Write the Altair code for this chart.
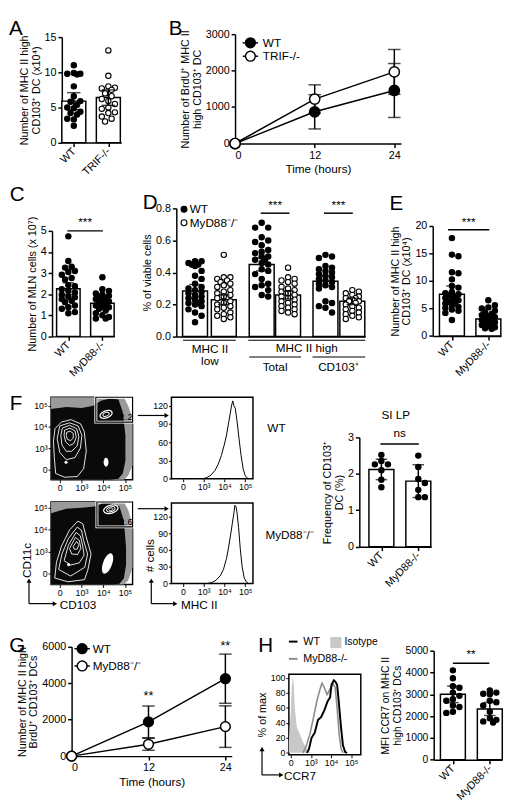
import altair as alt
import pandas as pd

FONT = "Liberation Sans"
S = 0.98
ONE = pd.DataFrame({"k": [0]})


def L(d):
    return S * d


# ===================== DATA =====================
# Panel A
A_groups = ["WT", "TRIF-/-"]
A_wt = [11.0, 9.9, 9.8, 9.8, 9.7, 8.0, 6.6, 5.9, 5.8, 5.4, 5.0, 4.9, 4.4, 4.2, 4.0, 3.4, 3.3, 2.4]
A_trif = [13.1, 9.5, 8.0, 7.8, 7.7, 7.5, 7.0, 6.6, 6.2, 5.9, 5.5, 5.0, 4.8, 4.3, 4.2, 3.7, 3.4, 3.0]
A_mean = [5.9, 6.4]
A_err = [1.2, 1.1]

# Panel B
B_series = ["WT", "TRIF-/-"]
B_time = [0, 12, 24]
B_wt = [0, 870, 1455]
B_wt_err = [0, 470, 740]
B_trif = [0, 1220, 1965]
B_trif_err = [0, 390, 615]

# Panel C
C_groups = ["WT", "MyD88-/-"]
C_wt = [4.74, 3.57, 3.3, 3.26, 3.1, 3.05, 2.92, 2.77, 2.7, 2.43, 2.38, 2.23, 2.15, 2.08, 1.97,
        1.88, 1.85, 1.77, 1.69, 1.62, 1.46, 1.38, 1.31, 1.15, 1.1]
C_myd = [2.8, 2.23, 2.15, 2.03, 1.97, 1.92, 1.88, 1.82, 1.77, 1.69, 1.66, 1.62, 1.54, 1.46, 1.42,
         1.38, 1.31, 1.23, 1.1, 1.0, 0.92, 0.85, 0.85]
C_mean = [2.26, 1.57]
C_err = [0.28, 0.12]

# Panel D
D_series = ["WT", "MyD88⁻/⁻"]
D_low_wt = [0.47, 0.47, 0.46, 0.45, 0.45, 0.44, 0.41, 0.38, 0.36, 0.33, 0.31, 0.30, 0.29, 0.28, 0.27,
            0.26, 0.25, 0.24, 0.23, 0.22, 0.21, 0.21, 0.20, 0.19, 0.17, 0.15, 0.13, 0.09]
D_low_myd = [0.51, 0.37, 0.37, 0.36, 0.35, 0.34, 0.33, 0.32, 0.31, 0.29, 0.28, 0.27, 0.26, 0.25,
             0.24, 0.22, 0.21, 0.20, 0.19, 0.18, 0.17, 0.15, 0.14, 0.13, 0.12, 0.11]
D_tot_wt = [0.71, 0.68, 0.68, 0.62, 0.60, 0.59, 0.57, 0.54, 0.53, 0.52, 0.50, 0.50, 0.48, 0.48,
            0.46, 0.45, 0.42, 0.41, 0.39, 0.36, 0.33, 0.32, 0.31, 0.29, 0.26, 0.25]
D_tot_myd = [0.43, 0.37, 0.36, 0.35, 0.34, 0.33, 0.31, 0.30, 0.29, 0.28, 0.27, 0.26, 0.25, 0.24,
             0.23, 0.22, 0.21, 0.20, 0.19, 0.18, 0.17, 0.16, 0.15, 0.14]
D_cd_wt = [0.51, 0.50, 0.49, 0.44, 0.43, 0.42, 0.41, 0.40, 0.39, 0.38, 0.37, 0.36, 0.35, 0.34,
           0.33, 0.32, 0.31, 0.30, 0.22, 0.21, 0.19, 0.18, 0.15]
D_cd_myd = [0.29, 0.28, 0.27, 0.26, 0.25, 0.24, 0.24, 0.23, 0.22, 0.22, 0.21, 0.20, 0.19, 0.18,
            0.17, 0.16, 0.15, 0.14, 0.13, 0.12, 0.11]
D_mean = [0.285, 0.23, 0.45, 0.26, 0.345, 0.22]
D_err = [0.04, 0.03, 0.04, 0.025, 0.03, 0.02]

# Panel E
E_groups = ["WT", "MyD88-/-"]
E_wt = [17.8, 14.8, 14.5, 11.6, 11.4, 10.3, 9.1, 8.8, 8.0, 7.8, 7.6, 7.4, 7.1, 6.9, 6.8, 6.5, 6.2,
        6.0, 5.9, 5.6, 5.3, 5.1, 4.8, 4.6, 4.2, 2.9]
E_myd = [6.5, 5.6, 5.2, 5.0, 4.6, 4.3, 4.0, 3.8, 3.6, 3.4, 3.2, 3.0, 2.9, 2.7, 2.5, 2.3, 2.1, 2.0,
         1.8, 1.6, 1.4, 1.3]
E_mean = [7.6, 3.1]
E_err = [1.5, 0.5]

# Panel F - flow plots
DEC_LABELS = ["0", "10³", "10⁴", "10⁵"]
F_top_halo = ([-0.4, 2.95, 3.15, 3.35], [3.41, 3.41, 3.0, 2.4], [-0.5, -0.5, -0.3, 0.2])
F_top_core = ([-0.4, 0.3, 1.0, 1.5, 1.9, 2.3, 2.7, 2.9, 3.02],
              [2.85, 2.95, 2.9, 3.0, 3.25, 3.35, 3.3, 2.7, 1.6],
              [-0.5, -0.5, -0.5, -0.5, -0.5, -0.5, -0.45, -0.2, 0.4])
F_top_contours = [
    [(-0.22, 1.92), (-0.29, 1.32), (-0.25, 0.56), (-0.19, -0.2), (0.22, -0.38), (0.81, -0.35),
     (1.10, 0.03), (1.22, 0.86), (1.13, 1.77), (0.96, 2.15), (0.51, 2.35), (0.07, 2.23)],
    [(0.0, 2.05), (0.45, 2.2), (0.85, 2.05), (1.02, 1.6), (0.95, 1.0), (0.7, 0.55), (0.3, 0.45),
     (0.0, 0.8), (-0.12, 1.45)],
    [(0.12, 1.95), (0.45, 2.08), (0.78, 1.92), (0.88, 1.55), (0.8, 1.1), (0.55, 0.85), (0.3, 0.85),
     (0.1, 1.15), (0.05, 1.6)],
    [(0.22, 1.85), (0.46, 1.95), (0.7, 1.82), (0.76, 1.52), (0.65, 1.22), (0.45, 1.12), (0.27, 1.3),
     (0.2, 1.6)],
    [(0.32, 1.75), (0.48, 1.8), (0.62, 1.7), (0.62, 1.48), (0.5, 1.35), (0.35, 1.42), (0.3, 1.6)],
]
F_top_gate = (1.66, 3.35, 2.23, 3.41)
F_top_freq = "2.2"
F_bot_halo = ([-0.4, 2.95, 3.15, 3.35], [3.26, 3.26, 2.9, 2.2], [-0.48, -0.48, -0.3, 0.3])
F_bot_core = ([-0.4, 0.3, 1.0, 1.6, 2.0, 2.4, 2.75, 2.95, 3.05],
              [2.75, 2.95, 3.0, 3.05, 3.2, 3.2, 3.05, 2.4, 1.2],
              [-0.48, -0.48, -0.48, -0.48, -0.48, -0.48, -0.45, -0.2, 0.4])
F_bot_contours = [
    [(-0.23, -0.19), (-0.15, 0.53), (0.08, 1.26), (0.45, 1.99), (0.83, 2.39), (1.06, 2.27),
     (1.21, 1.70), (1.44, 0.90), (1.29, 0.17), (1.14, -0.26), (0.38, -0.36)],
    [(-0.05, 0.2), (0.1, 0.9), (0.4, 1.6), (0.8, 2.12), (1.0, 1.98), (1.1, 1.5), (1.28, 0.9),
     (1.15, 0.3), (0.5, -0.1)],
    [(0.2, 0.6), (0.4, 1.3), (0.75, 1.88), (0.95, 1.72), (1.05, 1.3), (1.12, 0.85), (0.9, 0.5),
     (0.5, 0.4)],
    [(0.45, 1.15), (0.72, 1.65), (0.9, 1.52), (0.97, 1.15), (0.82, 0.88), (0.55, 0.9)],
    [(0.62, 1.25), (0.78, 1.47), (0.88, 1.32), (0.8, 1.12), (0.66, 1.12)],
]
F_bot_gate = (1.71, 3.35, 2.13, 3.26)
F_bot_freq = "2.6"
F_hist_wt_u = [0.95, 1.15, 1.35, 1.55, 1.7, 1.85, 2.0, 2.1, 2.2, 2.28, 2.35, 2.4, 2.45, 2.52, 2.6,
               2.7, 2.8, 2.9, 3.0, 3.1, 3.15]
F_hist_wt_c = [0, 2, 6, 14, 24, 38, 57, 72, 92, 108, 122, 128, 120, 116, 96, 66, 38, 16, 5, 1, 0]
F_hist_myd_u = [1.2, 1.4, 1.6, 1.8, 1.95, 2.1, 2.2, 2.3, 2.38, 2.45, 2.5, 2.55, 2.6, 2.68, 2.76,
                2.85, 2.95, 3.05, 3.15]
F_hist_myd_c = [0, 2, 6, 14, 25, 45, 65, 88, 108, 125, 140, 138, 128, 100, 62, 30, 10, 3, 0]

# SI LP
SI_groups = ["WT", "MyD88-/-"]
SI_wt = [2.52, 2.35, 2.26, 2.26, 2.1, 1.84, 1.63]
SI_myd = [2.5, 2.19, 1.86, 1.75, 1.56, 1.36, 1.36]
SI_mean = [2.12, 1.8]
SI_err = [0.28, 0.45]

# Panel G
G_series = ["WT", "MyD88⁻/⁻"]
G_time = [0, 12, 24]
G_wt = [0, 1880, 4250]
G_wt_err = [0, 870, 1350]
G_myd = [0, 650, 1620]
G_myd_err = [0, 330, 1140]

# Panel H
H_iso_u = [-0.1, 0.0, 0.05, 0.1, 0.15, 0.2, 0.3, 0.45, 0.6, 0.75, 0.9, 1.0]
H_iso_c = [15, 55, 90, 100, 90, 60, 35, 25, 15, 7, 2, 0]
H_myd_u = [0.6, 0.75, 0.95, 1.15, 1.3, 1.45, 1.55, 1.65, 1.8, 1.95, 2.1, 2.2, 2.3, 2.4, 2.5, 2.6]
H_myd_c = [0, 8, 25, 50, 70, 85, 93, 88, 78, 85, 92, 88, 60, 25, 5, 0]
H_wt_u = [0.8, 0.9, 1.03, 1.19, 1.35, 1.51, 1.67, 1.83, 1.95, 2.02, 2.14, 2.22, 2.30, 2.38, 2.49,
          2.59, 2.7, 2.8]
H_wt_c = [0, 5, 20, 27, 44, 48, 57, 69, 74, 91, 97, 95, 91, 69, 35, 10, 1, 0]
H_groups = ["WT", "MyD88-/-"]
H_wt = [4100, 3740, 3370, 3300, 3080, 2930, 2780, 2710, 2490, 2420, 2200, 2150]
H_myd = [3180, 3080, 3030, 3000, 2710, 2640, 2490, 2200, 1900, 1830, 1760, 1710]
H_mean = [3000, 2330]
H_err = [380, 300]

# ===================== HELPERS =====================
DEC_EXPR = ("datum.value == 0 ? '%s' : (datum.value == 1 ? '%s' : (datum.value == 2 ? '%s' : '%s'))"
            % tuple(DEC_LABELS))
ELL = "M-1,0A1,0.55,0,1,0,1,0A1,0.55,0,1,0,-1,0Z"
ELL_THIN = "M-1,0A1,0.42,0,1,0,1,0A1,0.42,0,1,0,-1,0Z"


def txt(s, x, y, size=11, align="center", baseline="middle", angle=0, color="black"):
    kw = dict(text=s, fontSize=size, align=align, baseline=baseline, color=color, font=FONT)
    if angle:
        kw["angle"] = angle
    return alt.Chart(ONE).mark_text(**kw).encode(x=alt.value(x), y=alt.value(y))


def seg(x1, y1, x2, y2, color="black", w=1.2):
    return alt.Chart(ONE).mark_rule(color=color, strokeWidth=w).encode(
        x=alt.value(x1), y=alt.value(y1), x2=alt.value(x2), y2=alt.value(y2))


def head(x, y, shape, size=26, color="black"):
    return alt.Chart(ONE).mark_point(shape=shape, filled=True, color=color, size=size,
                                     opacity=1).encode(x=alt.value(x), y=alt.value(y))


def key_rows(ox, oy, entries, sx, tx, size, stub, sw):
    # legend drawn as marks: a symbol (optionally with line stubs) and a label per series
    out = []
    for (yref, fill, label) in entries:
        if stub:
            out.append(seg(L(sx - stub - ox), L(yref - oy), L(sx + stub - ox), L(yref - oy), w=1.5))
        out.append(alt.Chart(ONE).mark_point(shape="circle", filled=True, fill=fill, stroke="black",
                                             strokeWidth=sw, size=size, opacity=1).encode(
            x=alt.value(L(sx - ox)), y=alt.value(L(yref - oy))))
        out.append(txt(label, L(tx - ox), L(yref - oy), size=12, align="left"))
    return out


def frame(rect, tile):
    # invisible box that fixes the panel's layout bounds to its tile of the figure
    x0, y0 = rect[0], rect[1]
    tx0, ty0, tx1, ty1 = tile
    return alt.Chart(ONE).mark_rect(opacity=0).encode(
        x=alt.value(L(tx0 - x0)), x2=alt.value(L(tx1 - x0)),
        y=alt.value(L(ty0 - y0)), y2=alt.value(L(ty1 - y0)))


def letter(ch, lx, ly, ox, oy):
    return txt(ch, L(lx - ox), L(ly - oy), size=21, align="left", baseline="top")


def swarm(vals, pxu, d=6.2, maxoff=10.0):
    step = d * 0.55
    cands = [0.0]
    k = 1
    while k * step <= maxoff:
        cands += [k * step, -k * step]
        k += 1
    placed = []
    offs = [0.0] * len(vals)
    for i in sorted(range(len(vals)), key=lambda j: -vals[j]):
        y = vals[i] * pxu
        best, bestd = 0.0, -1.0
        for c in cands:
            md = min([((c - px) ** 2 + (y - py) ** 2) ** 0.5 for px, py in placed] or [1e9])
            if md >= d:
                best = c
                break
            if md > bestd:
                bestd, best = md, c
        offs[i] = best
        placed.append((best, y))
    return offs


def bar_dot(rect, tile, centers, bw, pt_lists, names, palette, means, errs, ydom, yticks, ytitle,
            pxu, xlabels=None, yfmt=None, cap=12, sig=(), extra=(), tfs=11, lfs=11):
    x0, y0, x1, y1 = rect
    W, H = x1 - x0, y1 - y0
    cs = [c - x0 for c in centers]
    xs = alt.Scale(domain=[0, W], nice=False, zero=False)
    ys = alt.Scale(domain=ydom, nice=False, zero=False)
    if xlabels:
        mid = (cs[0] + cs[1]) / 2
        expr = "datum.value < %.2f ? '%s' : '%s'" % (mid, xlabels[0], xlabels[1])
        xaxis = alt.Axis(values=cs, labelExpr=expr, labelAngle=315, labelAlign="right",
                         labelBaseline="middle", labelPadding=3, title=None, labelFontSize=11)
    else:
        xaxis = alt.Axis(values=cs, labels=False, ticks=False, title=None)
    ykw = dict(values=yticks, title=ytitle, titlePadding=3, titleFontSize=tfs, labelFontSize=lfs,
               titleLineHeight=tfs + 1)
    if yfmt:
        ykw["format"] = yfmt
    yaxis = alt.Axis(**ykw)

    def X(f):
        return alt.X(f, scale=xs, axis=xaxis)

    def Y(f):
        return alt.Y(f, scale=ys, axis=yaxis)

    bdf = pd.DataFrame({"l": [c - bw / 2 for c in cs], "r": [c + bw / 2 for c in cs], "c": cs,
                        "m": means, "lo": [m - e for m, e in zip(means, errs)],
                        "hi": [m + e for m, e in zip(means, errs)]})
    rows = []
    for c, vals, nm in zip(cs, pt_lists, names):
        for v, o in zip(vals, swarm(vals, pxu, maxoff=bw / 2 - 2.8)):
            rows.append({"x": c + o, "v": v, "g": nm})
    pdf = pd.DataFrame(rows)
    dom = list(palette.keys())
    rng = [palette[k] for k in dom]
    layers = [
        frame(rect, tile),
        alt.Chart(bdf).mark_bar(fill="white", stroke="black", strokeWidth=1.5).encode(
            x=X("l:Q"), x2="r:Q", y=Y("m:Q"), y2=alt.datum(0)),
        alt.Chart(pdf).mark_point(shape="circle", filled=True, size=30, stroke="black",
                                  strokeWidth=1.1, opacity=1).encode(
            x=X("x:Q"), y=Y("v:Q"),
            fill=alt.Fill("g:N", scale=alt.Scale(domain=dom, range=rng), legend=None)),
        alt.Chart(bdf).mark_rule(color="black", strokeWidth=1.5).encode(
            x=X("c:Q"), y=Y("lo:Q"), y2="hi:Q"),
        alt.Chart(bdf).mark_tick(color="black", orient="horizontal", size=L(cap),
                                 thickness=1.5).encode(x=X("c:Q"), y=Y("lo:Q")),
        alt.Chart(bdf).mark_tick(color="black", orient="horizontal", size=L(cap),
                                 thickness=1.5).encode(x=X("c:Q"), y=Y("hi:Q")),
    ]
    for (xa, xb, yv, lab, ly) in sig:
        sdf = pd.DataFrame({"a": [xa - x0], "b": [xb - x0], "y": [yv], "ly": [ly],
                            "c": [(xa + xb) / 2 - x0], "t": [lab]})
        layers.append(alt.Chart(sdf).mark_rule(color="black", strokeWidth=1.5).encode(
            x=X("a:Q"), x2="b:Q", y=Y("y:Q")))
        layers.append(alt.Chart(sdf).mark_text(fontSize=12, font=FONT, baseline="middle",
                                               color="black").encode(
            x=X("c:Q"), y=Y("ly:Q"), text="t:N"))
    layers += list(extra)
    return alt.layer(*layers).properties(width=L(W), height=L(H))


def time_panel(rect, tile, times, s1, e1, s2, e2, names, ydom, yticks, ytitle, psize,
               stars=(), extra=()):
    x0, y0, x1, y1 = rect
    xs = alt.Scale(domain=[0, 25], nice=False, zero=False)
    ys = alt.Scale(domain=ydom, nice=False, zero=False)
    xaxis = alt.Axis(values=[0, 12, 24], title="Time (hours)", titleFontSize=12, titlePadding=4)
    yaxis = alt.Axis(values=yticks, title=ytitle, titlePadding=3, format="d", titleLineHeight=12)

    def X(f):
        return alt.X(f, scale=xs, axis=xaxis)

    def Y(f):
        return alt.Y(f, scale=ys, axis=yaxis)

    rows = []
    for nm, ser, err in ((names[0], s1, e1), (names[1], s2, e2)):
        for t, v, e in zip(times, ser, err):
            rows.append({"t": t, "v": v, "lo": v - e, "hi": v + e, "g": nm})
    df = pd.DataFrame(rows)
    edf = df[df["t"] > 0]
    layers = [
        frame(rect, tile),
        alt.Chart(df).mark_line(color="black", strokeWidth=1.5).encode(
            x=X("t:Q"), y=Y("v:Q"), detail="g:N"),
        alt.Chart(edf).mark_rule(color="black", strokeWidth=1.5).encode(
            x=X("t:Q"), y=Y("lo:Q"), y2="hi:Q"),
        alt.Chart(edf).mark_tick(color="black", orient="horizontal", size=L(13),
                                 thickness=1.5).encode(x=X("t:Q"), y=Y("lo:Q")),
        alt.Chart(edf).mark_tick(color="black", orient="horizontal", size=L(13),
                                 thickness=1.5).encode(x=X("t:Q"), y=Y("hi:Q")),
        alt.Chart(df).mark_point(shape="circle", filled=True, size=psize, stroke="black",
                                 strokeWidth=1.5, opacity=1).encode(
            x=X("t:Q"), y=Y("v:Q"),
            fill=alt.Fill("g:N", scale=alt.Scale(domain=names, range=["black", "white"]),
                          legend=None)),
    ]
    if stars:
        sdf = pd.DataFrame({"t": [s[0] for s in stars], "v": [s[1] for s in stars],
                            "s": [s[2] for s in stars]})
        layers.append(alt.Chart(sdf).mark_text(fontSize=13, font=FONT, color="black").encode(
            x=X("t:Q"), y=Y("v:Q"), text="s:N"))
    layers += list(extra)
    return alt.layer(*layers).properties(width=L(x1 - x0), height=L(y1 - y0))


def contour_panel(rect, tile, ydom, halo, core, contours, blobs, gate, glabel, extra=()):
    x0, y0, x1, y1 = rect
    xs = alt.Scale(domain=[-0.4, 3.35], nice=False, zero=False)
    ys = alt.Scale(domain=ydom, nice=False, zero=False)
    ax = alt.Axis(values=[0, 1, 2, 3], labelExpr=DEC_EXPR, domain=False, tickSize=3, tickWidth=1,
                  labelFontSize=9, labelPadding=1, title=None)

    def X(f):
        return alt.X(f, scale=xs, axis=ax)

    def Y(f):
        return alt.Y(f, scale=ys, axis=ax)

    layers = [frame(rect, tile)]
    hdf = pd.DataFrame({"u": halo[0], "t": halo[1], "b": halo[2]})
    layers.append(alt.Chart(hdf).mark_area(color="#9a9a9a").encode(x=X("u:Q"), y=Y("t:Q"), y2="b:Q"))
    cdf = pd.DataFrame({"u": core[0], "t": core[1], "b": core[2]})
    layers.append(alt.Chart(cdf).mark_area(color="#0a0a0a").encode(x=X("u:Q"), y=Y("t:Q"), y2="b:Q"))
    rows = []
    for ci, poly in enumerate(contours):
        for k, (u, v) in enumerate(list(poly) + [poly[0]]):
            rows.append({"cid": ci, "k": k, "u": u, "v": v})
    layers.append(alt.Chart(pd.DataFrame(rows)).mark_line(color="white", strokeWidth=0.9).encode(
        x=X("u:Q"), y=Y("v:Q"), detail="cid:N", order="k:Q"))
    for (u, v, shape, size, angle, fill, stroke, sw) in blobs:
        kw = dict(shape=shape, size=size, filled=True, fill=fill, opacity=1)
        if angle:
            kw["angle"] = angle
        if stroke:
            kw["stroke"] = stroke
            kw["strokeWidth"] = sw
        else:
            kw["strokeWidth"] = 0
        layers.append(alt.Chart(pd.DataFrame({"u": [u], "v": [v]})).mark_point(**kw).encode(
            x=X("u:Q"), y=Y("v:Q")))
    gdf = pd.DataFrame({"a": [gate[0]], "b": [gate[1]], "c": [gate[2]], "d": [gate[3]],
                        "lu": [gate[1] - 0.3], "lv": [gate[2] + 0.22], "t": [glabel]})
    layers.append(alt.Chart(gdf).mark_rect(fillOpacity=0, stroke="white", strokeWidth=3).encode(
        x=X("a:Q"), x2="b:Q", y=Y("c:Q"), y2="d:Q"))
    layers.append(alt.Chart(gdf).mark_rect(fillOpacity=0, stroke="black", strokeWidth=1.2).encode(
        x=X("a:Q"), x2="b:Q", y=Y("c:Q"), y2="d:Q"))
    layers.append(alt.Chart(gdf).mark_text(fontSize=10, font=FONT, color="black").encode(
        x=X("lu:Q"), y=Y("lv:Q"), text="t:N"))
    layers += list(extra)
    return alt.layer(*layers).properties(
        width=L(x1 - x0), height=L(y1 - y0),
        view=alt.ViewBackground(stroke="black", strokeWidth=1.5))


def hist_panel(rect, tile, xdom, ydom, yticks, curves, ytitle=None, extra=()):
    x0, y0, x1, y1 = rect
    xs = alt.Scale(domain=xdom, nice=False, zero=False)
    ys = alt.Scale(domain=ydom, nice=False, zero=False)
    xa = alt.Axis(values=[0, 1, 2, 3], labelExpr=DEC_EXPR, domain=False, tickSize=3, tickWidth=1,
                  labelFontSize=9, labelPadding=1, title=None)
    ya = alt.Axis(values=yticks, domain=False, tickSize=3, tickWidth=1, labelFontSize=9,
                  labelPadding=1, title=ytitle, titlePadding=3, titleFontSize=11)

    def X(f):
        return alt.X(f, scale=xs, axis=xa)

    def Y(f):
        return alt.Y(f, scale=ys, axis=ya)

    layers = [frame(rect, tile)]
    for (us, cv, kind, color, w) in curves:
        df = pd.DataFrame({"u": us, "c": cv})
        if kind == "area":
            layers.append(alt.Chart(df).mark_area(color=color).encode(
                x=X("u:Q"), y=Y("c:Q"), y2=alt.datum(0)))
        else:
            layers.append(alt.Chart(df).mark_line(color=color, strokeWidth=w).encode(
                x=X("u:Q"), y=Y("c:Q")))
    layers += list(extra)
    return alt.layer(*layers).properties(
        width=L(x1 - x0), height=L(y1 - y0),
        view=alt.ViewBackground(stroke="black", strokeWidth=1.5))


PAL2 = lambda a, b: {a: "black", b: "white"}

# ===================== PANELS (reference-pixel rects and tiles) =====================
rA, tA = (58, 22, 120, 132), (3, 2, 150, 168)
pA = bar_dot(rA, tA, [70.5, 106.5], 25, [A_wt, A_trif], A_groups, PAL2(*A_groups),
             A_mean, A_err, [0, 15], [0, 5, 10, 15], ["Number of MHC II high", "CD103⁺ DC (x10⁴)"],
             110 / 15, xlabels=A_groups, cap=14, extra=[letter("A", 3, 2, 58, 22)])
rB, tB = (237, 19, 410, 133), (150, 2, 516, 168)
pB = time_panel(rB, tB, B_time, B_wt, B_wt_err, B_trif, B_trif_err, B_series,
                [0, 3000], [0, 1000, 2000, 3000], ["Number of BrdU⁺ MHC II", "high CD103⁺ DC"],
                110, extra=[letter("B", 168, 2, 237, 19)] + key_rows(
                    237, 19, [(28, "black", B_series[0]), (42, "white", B_series[1])],
                    253, 266, 100, 8, 1.5))

rC, tC = (47, 221.7, 112, 331.7), (3, 168, 132, 372)
pC = bar_dot(rC, tC, [64, 99.5], 24.5, [C_wt, C_myd], C_groups, PAL2(*C_groups),
             C_mean, C_err, [0, 5], [0, 1, 2, 3, 4, 5], "Number of MLN cells (x 10⁷)", 22,
             xlabels=C_groups, sig=[(63, 100, 5.0, "***", 5.4)],
             extra=[letter("C", 3, 173, 47, 221.7)])

rD, tD = (175, 198, 372, 331.7), (132, 168, 392, 372)
ox, oy = 175, 198
dx = lambda x: L(x - ox)
dy = lambda y: L(y - oy)
D_extra = [
    seg(dx(182), dy(335.5), dx(237), dy(335.5)),
    seg(dx(250), dy(335.5), dx(372), dy(335.5)),
    seg(dx(251), dy(353), dx(305), dy(353)),
    seg(dx(317), dy(353), dx(372), dy(353)),
    txt("MHC II", dx(210), dy(345), size=12),
    txt("low", dx(210), dy(357), size=12),
    txt("MHC II high", dx(311), dy(344), size=12),
    txt("Total", dx(278), dy(363), size=12),
    txt("CD103⁺", dx(344), dy(363), size=12),
    letter("D", 140, 181, 175, 198),
] + key_rows(175, 198, [(199, "black", D_series[0]), (213, "white", D_series[1])],
             183, 189, 36, 0, 1.1)
pD = bar_dot(rD, tD, [194.5, 224.5, 264, 291.5, 330.5, 358.5], 26,
             [D_low_wt, D_low_myd, D_tot_wt, D_tot_myd, D_cd_wt, D_cd_myd],
             D_series * 3, PAL2(*D_series), D_mean, D_err, [0, 0.8], [0, 0.2, 0.4, 0.6, 0.8],
             "% of viable cells", 133.7 / 0.8, yfmt=".1f",
             sig=[(263, 293, 0.77, "***", 0.818), (329, 359, 0.77, "***", 0.818)], extra=D_extra)

rE, tE = (442, 216, 513, 330.7), (392, 168, 516, 372)
pE = bar_dot(rE, tE, [462, 500], 26, [E_wt, E_myd], E_groups, PAL2(*E_groups),
             E_mean, E_err, [0, 20], [0, 5, 10, 15, 20], ["Number of MHC II high", "CD103⁺ DC (x10⁴)"],
             5.73, xlabels=E_groups, sig=[(458, 501, 19.3, "***", 20.8)],
             extra=[letter("E", 397, 182, 442, 216)])

rCt, tCt = (46, 389, 131, 475), (3, 372, 132, 490)
pCt = contour_panel(rCt, tCt, [-0.5, 3.41], F_top_halo, F_top_core, F_top_contours,
                    [(2.13, 2.6, ELL, 169, 340, "black", "white", 1.3),
                     (2.13, 2.6, ELL, 45, 340, "black", "white", 1.0),
                     (2.13, 0.33, ELL, 81, 90, "white", None, 0),
                     (0.29, 0.33, "circle", 10, 0, "white", None, 0)],
                    F_top_gate, F_top_freq, extra=[letter("F", 3, 385, 46, 389)])
rCb, tCb = (46, 496, 131, 582), (3, 490, 132, 626)
cb_extra = [
    seg(L(23 - 46), L(602 - 496), L(23 - 46), L(580 - 496)),
    head(L(23 - 46), L(578 - 496), "triangle-up"),
    seg(L(23 - 46), L(602 - 496), L(48 - 46), L(602 - 496)),
    head(L(50 - 46), L(602 - 496), "triangle-right"),
    txt("CD103", L(55 - 46), L(603 - 496), size=12, align="left"),
    txt("CD11c", L(21 - 46), L(557 - 496), size=12, angle=270),
]
pCb = contour_panel(rCb, tCb, [-0.48, 3.26], F_bot_halo, F_bot_core, F_bot_contours,
                    [(2.35, 2.93, ELL, 225, 345, "black", "white", 1.3),
                     (2.35, 2.93, ELL, 80, 345, "black", "white", 1.0),
                     (2.35, 2.93, ELL, 20, 345, "black", "white", 0.8),
                     (2.2, 0.47, ELL_THIN, 484, 290, "white", None, 0),
                     (0.41, 0.42, "circle", 10, 0, "white", None, 0)],
                    F_bot_gate, F_bot_freq, extra=cb_extra)

rHt, tHt = (168, 389, 253, 474), (132, 372, 312, 490)
ht_extra = [
    seg(L(133 - 168), L(408 - 389), L(161 - 168), L(408 - 389)),
    head(L(163 - 168), L(408 - 389), "triangle-right"),
    txt("WT", L(268 - 168), L(421 - 389), size=12, align="left"),
]
pHt = hist_panel(rHt, tHt, [-0.55, 3.37], [0, 134], [0, 30, 60, 90, 120],
                 [(F_hist_wt_u, F_hist_wt_c, "line", "black", 1.0)], extra=ht_extra)
rHb, tHb = (168, 497, 253, 581), (132, 490, 312, 626)
hb_extra = [
    seg(L(133 - 168), L(503 - 497), L(161 - 168), L(503 - 497)),
    head(L(163 - 168), L(503 - 497), "triangle-right"),
    txt("MyD88⁻/⁻", L(266 - 168), L(530 - 497), size=12, align="left"),
    seg(L(147 - 168), L(602 - 497), L(147 - 168), L(580 - 497)),
    head(L(147 - 168), L(578 - 497), "triangle-up"),
    seg(L(147 - 168), L(602 - 497), L(170 - 168), L(602 - 497)),
    head(L(172 - 168), L(602 - 497), "triangle-right"),
    txt("MHC II", L(178 - 168), L(603 - 497), size=12, align="left"),
    txt("# cells", L(146 - 168), L(552 - 497), size=12, angle=270),
]
pHb = hist_panel(rHb, tHb, [-0.55, 3.37], [0, 144], [0, 30, 60, 90, 120],
                 [(F_hist_myd_u, F_hist_myd_c, "line", "black", 1.0)], extra=hb_extra)

rSI, tSI = (357, 432, 432, 546), (312, 372, 516, 626)
pSI = bar_dot(rSI, tSI, [380, 418.5], 26, [SI_wt, SI_myd], SI_groups, PAL2(*SI_groups),
              SI_mean, SI_err, [0, 3], [0, 1, 2, 3], ["Frequency of CD103⁺", "DC (%)"], 38,
              xlabels=SI_groups, sig=[(379, 419, 2.82, "ns", 3.12)],
              extra=[txt("SI LP", L(395 - 357), L(409 - 432), size=12)])

rG, tG = (68, 644, 235, 758), (3, 626, 255, 801)
pG = time_panel(rG, tG, G_time, G_wt, G_wt_err, G_myd, G_myd_err, G_series,
                [0, 6000], [0, 2000, 4000, 6000], ["Number of MHC II high", "BrdU⁺ CD103⁺ DCs"],
                100, stars=[(12, 3316, "**"), (24, 6050, "**")],
                extra=[letter("G", 3, 632, 68, 644)] + key_rows(
                    68, 644, [(646, "black", G_series[0]), (664, "white", G_series[1])],
                    79, 90, 100, 8, 1.5))

rHh, tHh = (293, 672, 368, 756), (255, 626, 388, 801)
hx = lambda x: L(x - 293)
hy = lambda y: L(y - 672)
hh_extra = [
    letter("H", 261, 632, 293, 672),
    seg(hx(293), hy(638), hx(302), hy(638), "black", 2),
    txt("WT", hx(308), hy(638), size=11, align="left"),
    head(hx(342), hy(639), "square", size=130, color="#c8c8c8"),
    txt("Isotype", hx(351), hy(639), size=10.5, align="left"),
    seg(hx(293), hy(656), hx(302), hy(656), "#8c8c8c", 2),
    txt("MyD88-/-", hx(308), hy(656), size=11, align="left"),
    seg(hx(265), hy(777), hx(265), hy(752)),
    head(hx(265), hy(750), "triangle-up"),
    seg(hx(265), hy(777), hx(283), hy(777)),
    head(hx(285), hy(777), "triangle-right"),
    txt("CCR7", hx(288), hy(778), size=12, align="left"),
]
pHh = hist_panel(rHh, tHh, [-0.095, 3.476], [-2.56, 105.1], [0, 20, 40, 60, 80, 100],
                 [(H_iso_u, H_iso_c, "area", "#c8c8c8", 0),
                  (H_myd_u, H_myd_c, "line", "#8c8c8c", 1.6),
                  (H_wt_u, H_wt_c, "line", "black", 2.0)],
                 ytitle="% of max", extra=hh_extra)

rHbar, tHbar = (442, 648, 513, 761.7), (388, 626, 516, 801)
pHbar = bar_dot(rHbar, tHbar, [462, 500.5], 26, [H_wt, H_myd], H_groups, PAL2(*H_groups),
                H_mean, H_err, [0, 5000], [0, 1000, 2000, 3000, 4000, 5000],
                ["MFI CCR7 on MHC II", "high CD103⁺ DCs"], 113.7 / 5000, xlabels=H_groups,
                yfmt="d", sig=[(462, 500, 4428, "**", 4824)], tfs=10.5, lfs=10.5)


# ===================== LAYOUT =====================
# Vega aligns concat cells by their origin; a 1px invisible anchor at the top-left of every
# cell makes each cell's origin the corner of its tile, so each plot lands at its tile offset.
def anchor():
    return alt.Chart(ONE).mark_rect(opacity=0).encode(
        x=alt.value(0), x2=alt.value(1), y=alt.value(0), y2=alt.value(1)
    ).properties(width=1, height=1)


def cell(*panels):
    return alt.vconcat(anchor(), *panels, spacing=0)


row1 = alt.hconcat(anchor(), cell(pA), cell(pB), spacing=0)
row2 = alt.hconcat(anchor(), cell(pC), cell(pD), cell(pE), spacing=0)
row3 = alt.hconcat(anchor(), cell(pCt, pCb), cell(pHt, pHb), cell(pSI), spacing=0)
row4 = alt.hconcat(anchor(), cell(pG), cell(pHh), cell(pHbar), spacing=0)

chart = alt.vconcat(row1, row2, row3, row4, spacing=0).properties(padding=0).configure(
    font=FONT).configure_view(stroke=None).configure_axis(
    domainColor="black", domainWidth=1.5, tickColor="black", tickWidth=1.5, tickSize=4,
    labelColor="black", labelFontSize=11, labelFont=FONT, titleFont=FONT, titleFontSize=11,
    titleFontWeight="normal", titleColor="black", grid=False, labelPadding=2
).configure_legend(labelFont=FONT, labelColor="black")

chart.save("out.html", embed_options={"renderer": "svg", "actions": False})
